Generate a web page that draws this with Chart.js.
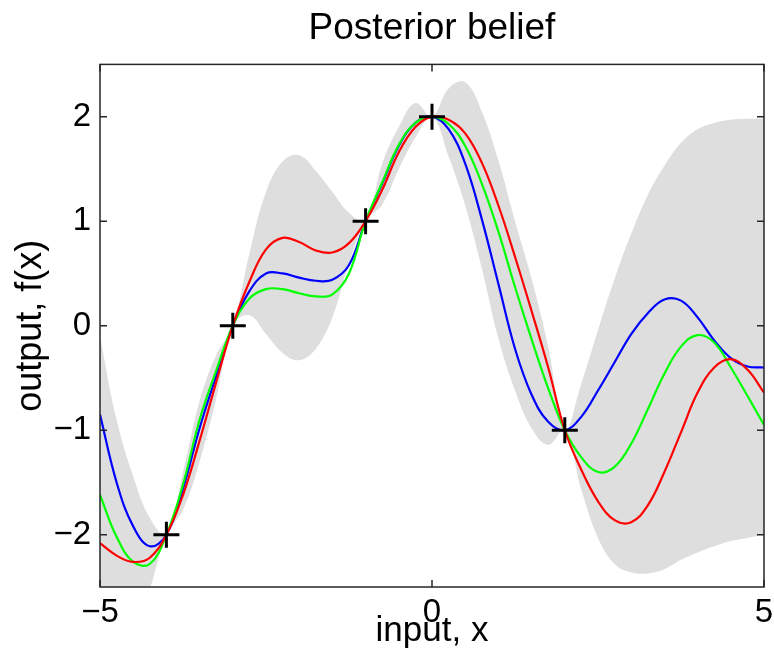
<!DOCTYPE html>
<html>
<head>
<meta charset="utf-8">
<script src="https://cdn.jsdelivr.net/npm/chart.js@4.4.1/dist/chart.umd.min.js"></script>
<style>
  html, body { margin: 0; padding: 0; background: #ffffff; }
  #wrap { width: 774px; height: 665px; }
</style>
</head>
<body>
<div id="wrap"><canvas id="c" width="774" height="665"></canvas></div>
<script>
// Input grid
const xs = [-5, -4.75, -4.5, -4.25, -4, -3.75, -3.5, -3.25, -3, -2.75, -2.5, -2.25, -2, -1.75, -1.5, -1.25, -1, -0.75, -0.5, -0.25,
            0, 0.25, 0.5, 0.75, 1, 1.25, 1.5, 1.75, 2, 2.25, 2.5, 2.75, 3, 3.25, 3.5, 3.75, 4, 4.25, 4.5, 4.75, 5];

// Three posterior sample functions
const sampleBlue = [-0.85, -1.50, -1.92, -2.11, -2.0, -1.56, -0.98, -0.48, 0, 0.33, 0.50, 0.50, 0.46, 0.43, 0.44, 0.58, 1.0, 1.36, 1.72, 1.94,
                    2.0, 1.88, 1.55, 1.02, 0.40, -0.22, -0.66, -0.92, -1.0, -0.87, -0.62, -0.35, -0.08, 0.12, 0.25, 0.24, 0.08, -0.14, -0.31, -0.39, -0.40];
const sampleGreen = [-1.62, -2.02, -2.26, -2.28, -2.0, -1.52, -0.90, -0.43, 0, 0.26, 0.35, 0.35, 0.31, 0.28, 0.30, 0.50, 1.0, 1.37, 1.73, 1.94,
                     2.0, 1.93, 1.72, 1.36, 0.90, 0.37, -0.13, -0.60, -1.0, -1.26, -1.40, -1.35, -1.13, -0.80, -0.46, -0.20, -0.09, -0.16, -0.40, -0.67, -0.95];
const sampleRed = [-2.08, -2.20, -2.26, -2.22, -2.0, -1.62, -1.10, -0.54, 0, 0.42, 0.73, 0.84, 0.80, 0.72, 0.70, 0.79, 1.0, 1.30, 1.66, 1.90,
                   2.0, 1.97, 1.84, 1.56, 1.15, 0.66, 0.14, -0.40, -1.0, -1.38, -1.68, -1.86, -1.88, -1.72, -1.40, -1.02, -0.64, -0.40, -0.32, -0.42, -0.64];

// Two-standard-deviation band around the posterior mean
const bandUpper = [-0.10, -0.90, -1.44, -1.84, -2.0, -1.40, -0.72, -0.28, 0, 0.69, 1.28, 1.57, 1.63, 1.48, 1.28, 1.08, 1.0, 1.55, 1.90, 2.13,
                   2.0, 2.27, 2.33, 2.05, 1.58, 1.00, 0.45, -0.20, -1.0, -0.55, -0.04, 0.45, 0.88, 1.25, 1.53, 1.75, 1.88, 1.94, 1.97, 1.98, 1.98];
const bandLower = [-3.90, -3.40, -2.95, -2.52, -2.0, -1.76, -1.30, -0.70, 0, 0.10, -0.08, -0.26, -0.33, -0.22, 0.08, 0.60, 1.0, 1.16, 1.50, 1.80,
                   2.0, 1.62, 1.15, 0.55, -0.12, -0.62, -0.98, -1.14, -1.0, -1.57, -2.03, -2.28, -2.36, -2.37, -2.33, -2.24, -2.17, -2.11, -2.06, -2.03, -2.0];

// Observed training points
const obsX = [-4, -3, -1, 0, 2];
const obsY = [-2, 0, 1, 2, -1];

// Tick values
const xTickValues = [-5, 0, 5];
const yTickValues = [-2, -1, 0, 1, 2];

const pts = (ys) => xs.map((x, i) => ({ x: x, y: ys[i] }));
const fmt = (v) => (v < 0 ? '\u2212' + Math.abs(v) : String(v));

// Axes box with inward ticks on all four sides
const frame = {
  id: 'frame',
  afterDatasetsDraw(chart) {
    const { ctx, chartArea: a, scales: { x, y } } = chart;
    ctx.save();
    ctx.strokeStyle = '#262626';
    ctx.lineWidth = 1.5;
    ctx.strokeRect(a.left, a.top, a.right - a.left, a.bottom - a.top);
    ctx.beginPath();
    const len = 7;
    xTickValues.forEach(v => {
      const px = x.getPixelForValue(v);
      ctx.moveTo(px, a.bottom); ctx.lineTo(px, a.bottom - len);
      ctx.moveTo(px, a.top); ctx.lineTo(px, a.top + len);
    });
    yTickValues.forEach(v => {
      const py = y.getPixelForValue(v);
      ctx.moveTo(a.left, py); ctx.lineTo(a.left + len, py);
      ctx.moveTo(a.right, py); ctx.lineTo(a.right - len, py);
    });
    ctx.stroke();
    ctx.restore();
  }
};

const FONT = '"Liberation Sans", Arial, Helvetica, sans-serif';

const noPad = (s) => { s.paddingLeft = 0; s.paddingRight = 0; s.paddingTop = 0; s.paddingBottom = 0; };

const curve = { pointRadius: 0, tension: 0.4, fill: false };

new Chart(document.getElementById('c'), {
  type: 'line',
  data: {
    datasets: [
      { label: 'observations', data: obsX.map((x, i) => ({ x: x, y: obsY[i] })), showLine: false,
        pointStyle: 'cross', pointRadius: 13, pointHoverRadius: 13, pointBorderWidth: 3, pointBorderColor: '#000000',
        order: 0 },
      { ...curve, label: 'sample 3', data: pts(sampleRed), borderColor: '#ff0000', borderWidth: 2.2, order: 1 },
      { ...curve, label: 'sample 2', data: pts(sampleGreen), borderColor: '#00ff00', borderWidth: 2.2, order: 2 },
      { ...curve, label: 'sample 1', data: pts(sampleBlue), borderColor: '#0000ff', borderWidth: 2.2, order: 3 },
      { ...curve, label: 'upper', data: pts(bandUpper), borderWidth: 0, borderColor: 'rgba(0,0,0,0)',
        backgroundColor: '#dedede', fill: '+1', order: 4 },
      { ...curve, label: 'lower', data: pts(bandLower), borderWidth: 0, borderColor: 'rgba(0,0,0,0)', order: 5 }
    ]
  },
  options: {
    responsive: false,
    animation: false,
    events: [],
    layout: { autoPadding: false, padding: { left: 0, right: 10, top: 0, bottom: 0 } },
    plugins: {
      legend: { display: false },
      tooltip: { enabled: false },
      title: {
        display: true,
        text: 'Posterior belief',
        fullSize: false,
        color: '#000000',
        font: { family: FONT, size: 37, weight: 'normal', lineHeight: 1.2 },
        padding: { top: 7, bottom: 13 }
      }
    },
    scales: {
      x: {
        type: 'linear',
        min: -5, max: 5,
        afterBuildTicks: (s) => { s.ticks = xTickValues.map(v => ({ value: v })); },
        afterFit: (s) => { s.height = 78; noPad(s); },
        afterUpdate: noPad,
        grid: { display: false, drawTicks: false },
        border: { display: false },
        ticks: { color: '#000000', font: { family: FONT, size: 33 }, padding: 6, maxRotation: 0, autoSkip: false, callback: fmt },
        title: { display: true, text: 'input, x', color: '#000000', font: { family: FONT, size: 35, lineHeight: 1.2 }, padding: { top: 0, bottom: 13 } }
      },
      y: {
        type: 'linear',
        min: -2.5, max: 2.5,
        afterBuildTicks: (s) => { s.ticks = yTickValues.map(v => ({ value: v })); },
        afterFit: (s) => { s.width = 100; noPad(s); },
        afterUpdate: noPad,
        grid: { display: false, drawTicks: false },
        border: { display: false },
        ticks: { color: '#000000', font: { family: FONT, size: 33 }, padding: 9, autoSkip: false, callback: fmt },
        title: { display: true, text: 'output, f(x)', color: '#000000', font: { family: FONT, size: 36, lineHeight: 1.2 }, padding: { top: 9, bottom: 0 } }
      }
    }
  },
  plugins: [frame]
});
</script>
</body>
</html>
